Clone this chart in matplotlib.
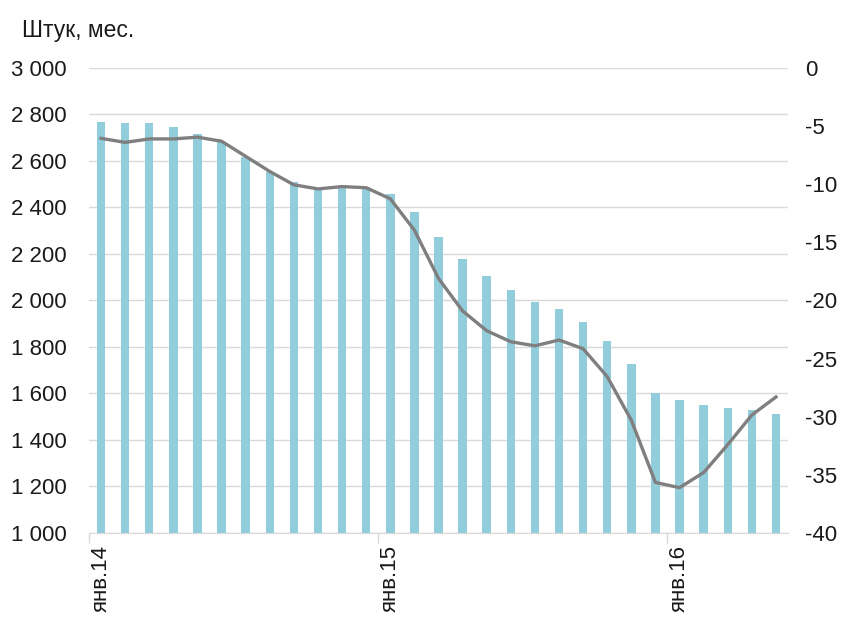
import matplotlib.pyplot as plt
import numpy as np

plt.rcParams['font.family'] = ['Liberation Sans', 'DejaVu Sans']
plt.rcParams['axes.unicode_minus'] = False

# месяцы: янв.14 ... май.16
months = np.arange(29)
tick_pos = [0, 12, 24]
tick_labels = ["янв.14", "янв.15", "янв.16"]

# количество, штук в месяц (левая ось)
units = [2768, 2763, 2763, 2746, 2717, 2680, 2619, 2554, 2511, 2483,
         2490, 2490, 2458, 2380, 2273, 2178, 2104, 2045, 1995, 1962,
         1908, 1825, 1726, 1601, 1570, 1550, 1538, 1527, 1510]

# изменение, % (правая ось)
change = [-6.05, -6.4, -6.1, -6.1, -5.95, -6.3, -7.6, -8.9, -10.05, -10.4,
          -10.2, -10.3, -11.25, -13.95, -18.1, -20.9, -22.6, -23.55, -23.9, -23.4,
          -24.15, -26.55, -30.3, -35.65, -36.1, -34.8, -32.4, -29.85, -28.3]

fig = plt.figure(figsize=(8.45, 6.19), dpi=100)
ax = fig.add_axes([89/845, 1 - 533/619, (788 - 89)/845, (533 - 68)/619])

ax.bar(months, units, width=0.35, color='#92CDDC', zorder=2)
ax.set_ylim(1000, 3000)
ax.set_xlim(-0.5, 28.5)
ax.set_yticks(np.arange(1000, 3001, 200))
ax.set_yticklabels([f"{v:,}".replace(",", " ") for v in range(1000, 3001, 200)])
ax.grid(axis='y', color='#D9D9D9', linewidth=1, zorder=0)
ax.set_axisbelow(True)

for s in ['top', 'right', 'left']:
    ax.spines[s].set_visible(False)
ax.spines['bottom'].set_color('#D9D9D9')

ax.set_xticks(tick_pos)
ax.set_xticklabels(tick_labels, rotation=90, va='top', ha='center')
ax.tick_params(axis='x', length=0, pad=9, labelsize=16, labelcolor='#1a1a1a')
ax.set_xticks([p - 0.5 for p in tick_pos], minor=True)
ax.tick_params(axis='x', which='minor', length=7, color='#D9D9D9', width=1)
ax.tick_params(axis='y', length=0, pad=16, labelsize=16, labelcolor='#1a1a1a')

ax2 = ax.twinx()
ax2.plot(months, change, color='#7F7F7F', linewidth=2.4, zorder=3)
ax2.set_ylim(-40, 0)
ax2.set_yticks(np.arange(-40, 1, 5))
ax2.tick_params(axis='y', length=0, pad=12, labelsize=16, labelcolor='#1a1a1a')
for s in ax2.spines.values():
    s.set_visible(False)

fig.text(22/845, 1 - 30/619, "Штук, мес.", fontsize=16.5, color='#1a1a1a',
         ha='left', va='center')

fig.savefig("out.png", dpi=100)
